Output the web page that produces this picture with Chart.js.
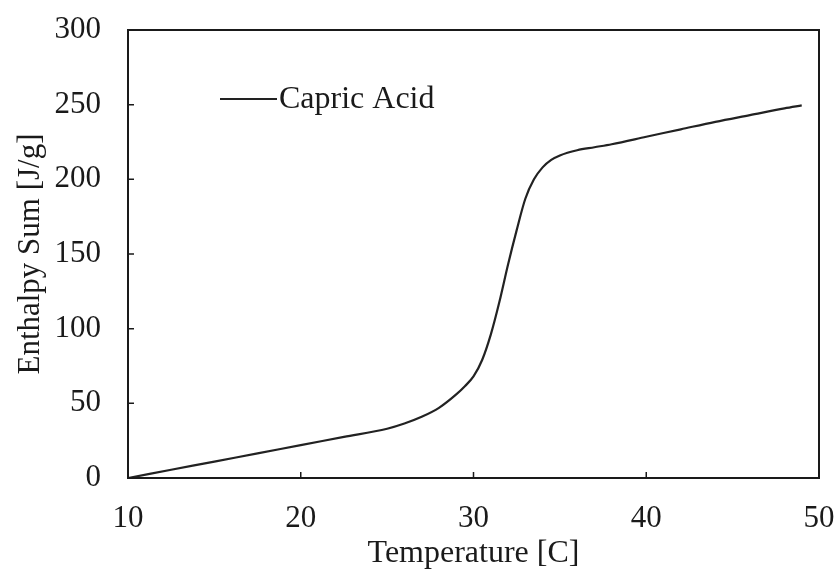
<!DOCTYPE html>
<html>
<head>
<meta charset="utf-8">
<script src="https://cdn.jsdelivr.net/npm/chart.js@4/dist/chart.umd.min.js"></script>
<style>
  html, body { margin: 0; padding: 0; background: #fff; }
  #wrap { width: 840px; height: 581px; }
</style>
</head>
<body>
<div id="wrap"><canvas id="enthalpy_chart"></canvas></div>
<script>
const temperature = [10, 12.5, 15, 17.5, 20, 22.5, 25, 26, 27, 28, 29, 29.5, 30, 30.5, 31, 31.5, 32, 32.5, 33, 33.5, 34, 34.5, 35, 36, 37, 38, 40, 42, 44, 46, 48, 49];
const enthalpy = [0, 5.5, 11, 16.5, 22, 27.5, 33, 36.5, 41, 47, 56, 61.5, 68, 79, 96, 118, 143, 166, 187, 200, 208, 213, 216, 219.5, 221.5, 223.5, 228.5, 233.5, 238.5, 243, 247.5, 249.5];
const xTicks = [10, 20, 30, 40, 50];
const yTicks = [0, 50, 100, 150, 200, 250, 300];

const serif = "'Liberation Serif', 'DejaVu Serif', serif";
const ink = "#1a1a1a";

// frame, inward ticks and the legend inside the plot
const framePlugin = {
  id: "frame",
  afterDatasetsDraw(chart) {
    const { ctx, chartArea: a, scales } = chart;
    ctx.save();
    ctx.strokeStyle = ink;
    ctx.lineWidth = 2;
    ctx.strokeRect(a.left, a.top, a.right - a.left, a.bottom - a.top);
    ctx.lineWidth = 1.5;
    ctx.beginPath();
    xTicks.forEach((t) => {
      const px = scales.x.getPixelForValue(t);
      ctx.moveTo(px, a.bottom);
      ctx.lineTo(px, a.bottom - 6);
    });
    yTicks.forEach((t) => {
      const py = scales.y.getPixelForValue(t);
      ctx.moveTo(a.left, py);
      ctx.lineTo(a.left + 6, py);
    });
    ctx.stroke();

    const ds = chart.data.datasets[0];
    ctx.strokeStyle = ds.borderColor;
    ctx.lineWidth = ds.borderWidth;
    ctx.beginPath();
    ctx.moveTo(220, 99);
    ctx.lineTo(277, 99);
    ctx.stroke();
    ctx.fillStyle = ink;
    ctx.font = "32px " + serif;
    ctx.textBaseline = "middle";
    ctx.fillText(ds.label, 279, 100);
    ctx.restore();
  },
};

let config = {
  type: "line",
  data: {
    datasets: [
      {
        label: "Capric Acid",
        data: temperature.map((t, i) => ({ x: t, y: enthalpy[i] })),
        borderColor: "#222",
        borderWidth: 2.2,
        pointRadius: 0,
        cubicInterpolationMode: "monotone",
        fill: false,
      },
    ],
  },
  options: {
    responsive: true,
    maintainAspectRatio: false,
    animation: false,
    layout: { padding: { top: 30, right: 21, left: 0, bottom: 0 } },
    plugins: {
      legend: { display: false },
      tooltip: { enabled: false },
    },
    scales: {
      x: {
        type: "linear",
        min: 10,
        max: 50,
        afterBuildTicks: (s) => { s.ticks = xTicks.map((v) => ({ value: v })); },
        afterFit: (s) => { s.height = 103; s.paddingLeft = 0; s.paddingRight = 0; },
        grid: { display: false, drawTicks: false },
        border: { display: false },
        ticks: { color: ink, font: { family: serif, size: 31 }, padding: 22, maxRotation: 0 },
        title: {
          display: true,
          text: "Temperature [C]",
          color: ink,
          font: { family: serif, size: 32 },
          padding: { top: 0, bottom: 8 },
        },
      },
      y: {
        min: 0,
        max: 300,
        afterBuildTicks: (s) => { s.ticks = yTicks.map((v) => ({ value: v })); },
        afterFit: (s) => { s.width = 128; s.paddingTop = 0; s.paddingBottom = 0; },
        grid: { display: false, drawTicks: false },
        border: { display: false },
        ticks: { color: ink, font: { family: serif, size: 31 }, padding: 27 },
        title: {
          display: true,
          text: "Enthalpy Sum [J/g]",
          color: ink,
          font: { family: serif, size: 31 },
          padding: { top: 12, bottom: 0 },
        },
      },
    },
  },
  plugins: [framePlugin],
};

new Chart(document.getElementById("enthalpy_chart"), config);
</script>
</body>
</html>
